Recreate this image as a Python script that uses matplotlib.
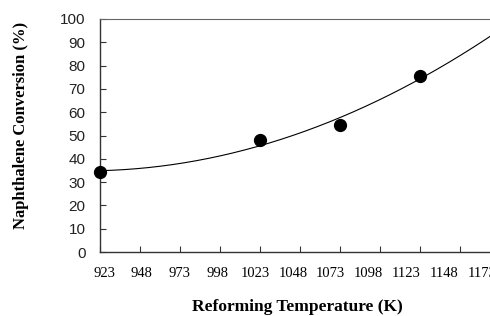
import numpy as np
import matplotlib
matplotlib.use("Agg")
import matplotlib.pyplot as plt
from matplotlib.transforms import ScaledTranslation

# measured points
temps = [923, 1023, 1073, 1123]
conversion = [34.5, 48.0, 54.5, 75.5]
xticks = [923, 948, 973, 998, 1023, 1048, 1073, 1098, 1123, 1148, 1173]
yticks = [0, 10, 20, 30, 40, 50, 60, 70, 80, 90, 100]

fig = plt.figure(figsize=(4.9, 3.16), dpi=100)
ax = fig.add_axes([100 / 490, 64 / 316, 400 / 490, 233 / 316])

# 2nd order trendline through the data, extended to 1173 K
coef = np.polyfit(temps, conversion, 2)
xs = np.linspace(923, 1173, 200)
ax.plot(xs, np.polyval(coef, xs), color="black", lw=0.8)
ax.plot(temps, conversion, "o", color="black", ms=8.5, clip_on=False, zorder=3)

ax.set_xlim(923, 1173)
ax.set_ylim(0, 100)
ax.set_xticks(xticks)
ax.set_yticks(yticks)
ax.set_xticklabels([str(t) for t in xticks], family="Liberation Serif", fontsize=10.5)
ax.set_yticklabels([str(t) for t in yticks], family="Liberation Sans", fontsize=11,
                   color="#222222")
ax.tick_params(direction="in", length=4, width=0.8, color="#333333")
ax.tick_params(axis="x", pad=11)
ax.tick_params(axis="y", pad=10.5)

# the original labels sit a little tighter than the ticks
for i, lab in enumerate(ax.get_xticklabels()):
    dx = (4 - 2.2 * i) / 100
    lab.set_transform(lab.get_transform() + ScaledTranslation(dx, 0, fig.dpi_scale_trans))

for s in ["left", "bottom"]:
    ax.spines[s].set_color("#333333")
    ax.spines[s].set_linewidth(1.0)
ax.spines["top"].set_color("#666666")
ax.spines["right"].set_visible(False)

ax.set_xlabel("Reforming Temperature (K)", family="Liberation Serif",
              fontweight="bold", fontsize=12.5, va="center")
ax.set_ylabel("Naphthalene Conversion (%)", family="Liberation Serif",
              fontweight="bold", fontsize=12, va="center")
ax.xaxis.set_label_coords(0.4925, -0.236)
ax.yaxis.set_label_coords(-0.1975, 0.545)

fig.savefig("out.png", dpi=100)
